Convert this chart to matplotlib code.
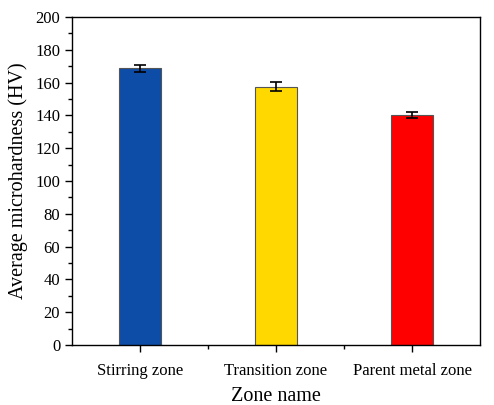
import matplotlib
matplotlib.use("Agg")
import matplotlib.pyplot as plt
from matplotlib.ticker import MultipleLocator, FixedLocator

# zone hardness data
zones = ["Stirring zone", "Transition zone", "Parent metal zone"]
hardness = [168.8, 157.6, 140.0]
errors = [2.2, 2.6, 1.8]
colors = ["#0D4DA8", "#FFD800", "#FF0000"]

plt.rcParams["font.family"] = ["Liberation Serif", "DejaVu Serif"]

fig = plt.figure(figsize=(4.94, 4.05), dpi=100)
ax = fig.add_axes([0.1457, 0.148, 0.826, 0.810])

x = list(range(len(zones)))
ax.bar(x, hardness, width=0.31, color=colors, edgecolor="#555555", linewidth=0.8,
       yerr=errors, capsize=4, error_kw={"elinewidth": 1.2, "capthick": 1.2, "ecolor": "black"})

ax.set_xlim(-0.5, 2.5)
ax.set_ylim(0, 200)
ax.yaxis.set_major_locator(MultipleLocator(20))
ax.yaxis.set_minor_locator(MultipleLocator(10))
ax.set_xticks(x)
ax.set_xticklabels(zones)
ax.xaxis.set_minor_locator(FixedLocator([0.5, 1.5]))

ax.tick_params(axis="both", which="major", direction="out", length=5, width=1, labelsize=12)
ax.tick_params(axis="both", which="minor", direction="out", length=3, width=1)
ax.tick_params(axis="x", pad=8)

ax.set_xlabel("Zone name", fontsize=14.5, labelpad=6)
ax.set_ylabel("Average microhardness (HV)", fontsize=14.5, labelpad=5)

for s in ax.spines.values():
    s.set_linewidth(1)

fig.savefig("out.png", dpi=100)
